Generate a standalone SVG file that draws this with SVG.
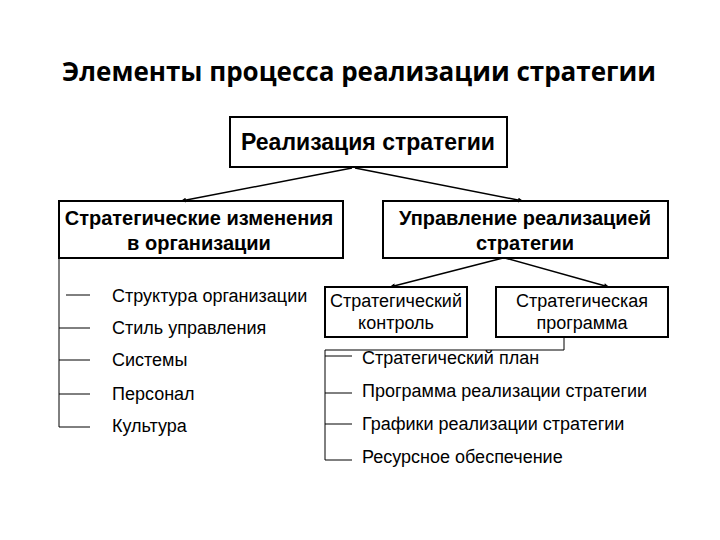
<svg xmlns="http://www.w3.org/2000/svg" width="720" height="540" viewBox="0 0 720 540">
<defs>
<marker id="ah" viewBox="0 0 10 10" refX="10" refY="5" markerWidth="7" markerHeight="5" orient="auto" markerUnits="userSpaceOnUse">
<path d="M0,0 L10,5 L0,10 z" fill="#000"/>
</marker>
<style>
.box{fill:#fff;stroke:#000;stroke-width:2}
.ln{fill:none;stroke:#000;stroke-width:1}
.arr{fill:none;stroke:#000;stroke-width:1.5}
.b{font-family:"Liberation Sans",Arial,sans-serif;font-weight:bold;fill:#000}
.r{font-family:"Liberation Sans",Arial,sans-serif;font-size:18px;fill:#000}
</style>
</defs>
<rect width="720" height="540" fill="#fff"/>
<text x="359" y="81" text-anchor="middle" font-family="'Open Sans','Liberation Sans',sans-serif" font-size="26" font-weight="bold">Элементы процесса реализации стратегии</text>

<g id="n-top">
<rect class="box" x="230" y="117" width="277" height="50"/>
<text class="b" x="368" y="150" text-anchor="middle" font-size="23">Реализация стратегии</text>
</g>
<g id="n-left">
<rect class="box" x="59" y="201" width="284" height="57"/>
<text class="b" x="199" y="225" text-anchor="middle" font-size="20">Стратегические изменения</text>
<text class="b" x="199" y="250" text-anchor="middle" font-size="20">в организации</text>
</g>
<g id="n-right">
<rect class="box" x="383" y="201" width="285" height="57"/>
<text class="b" x="525" y="225" text-anchor="middle" font-size="20">Управление реализацией</text>
<text class="b" x="525" y="250" text-anchor="middle" font-size="20">стратегии</text>
</g>
<g id="n-control">
<rect class="box" x="325" y="287" width="142" height="50"/>
<text class="r" x="396" y="307" text-anchor="middle">Стратегический</text>
<text class="r" x="396" y="329" text-anchor="middle">контроль</text>
</g>
<g id="n-program">
<rect class="box" x="496" y="287" width="172" height="50"/>
<text class="r" x="582" y="307" text-anchor="middle">Стратегическая</text>
<text class="r" x="582" y="329" text-anchor="middle">программа</text>
</g>
<g id="list-left">
<text class="r" x="112" y="302">Структура организации</text>
<text class="r" x="112" y="334">Стиль управления</text>
<text class="r" x="112" y="366">Системы</text>
<text class="r" x="112" y="400">Персонал</text>
<text class="r" x="112" y="432">Культура</text>
</g>
<g id="list-right">
<text class="r" x="362" y="364">Стратегический план</text>
<text class="r" x="362" y="397">Программа реализации стратегии</text>
<text class="r" x="362" y="430">Графики реализации стратегии</text>
<text class="r" x="362" y="463">Ресурсное обеспечение</text>
</g>
<g id="connectors">
<line class="arr" x1="352" y1="168" x2="181" y2="201" marker-end="url(#ah)"/>
<line class="arr" x1="355" y1="168" x2="523" y2="201" marker-end="url(#ah)"/>
<line class="arr" x1="503" y1="258" x2="390" y2="287" marker-end="url(#ah)"/>
<line class="arr" x1="505" y1="258" x2="609" y2="287" marker-end="url(#ah)"/>
<path class="ln" d="M59,258 V427 H90"/>
<line class="ln" x1="66" y1="295" x2="90" y2="295"/>
<line class="ln" x1="59" y1="328" x2="90" y2="328"/>
<line class="ln" x1="59" y1="360" x2="90" y2="360"/>
<line class="ln" x1="59" y1="394" x2="90" y2="394"/>
<path class="ln" d="M564,337 V350 H325 V460 H352"/>
<line class="ln" x1="325" y1="356" x2="352" y2="356"/>
<line class="ln" x1="325" y1="393" x2="352" y2="393"/>
<line class="ln" x1="325" y1="424" x2="352" y2="424"/>
</g>
</svg>
